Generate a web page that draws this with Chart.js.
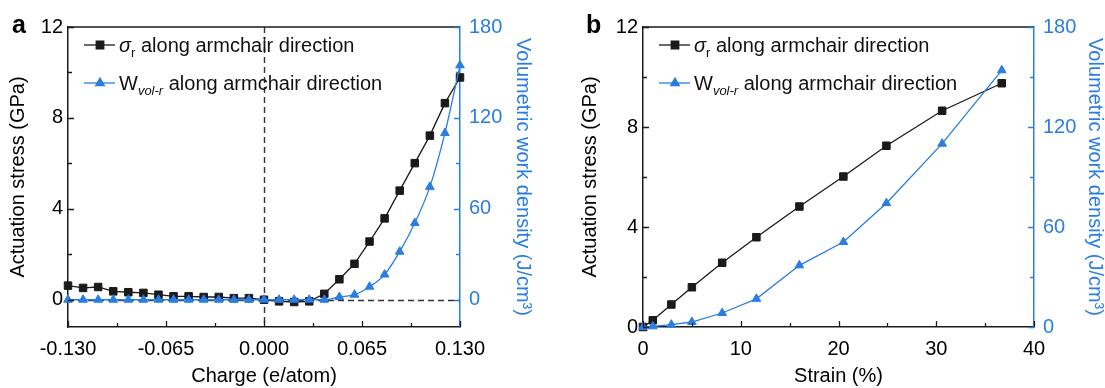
<!DOCTYPE html>
<html lang="en">
<head>
<meta charset="UTF-8">
<title>Actuation stress and volumetric work density</title>
<script src="https://cdn.jsdelivr.net/npm/chart.js"></script>
<style>
body {
    margin: 0;
    background: #fff;
    width: 1105px;
    height: 388px;
    overflow: hidden;
    position: relative;
}
.panel {
    position: absolute;
    top: 0;
    width: 560px;
    height: 388px;
}
#panelA { left: 0; }
#panelB { left: 556px; }
</style>
</head>
<body>

<div class="panel" id="panelA"><canvas id="chartA" width="560" height="388"></canvas></div>
<div class="panel" id="panelB"><canvas id="chartB" width="560" height="388"></canvas></div>

<script>
// panel a: charge sweep
const charge = [-0.13, -0.12, -0.11, -0.10, -0.09, -0.08, -0.07, -0.06, -0.05, -0.04, -0.03, -0.02, -0.01,
    0.00, 0.01, 0.02, 0.03, 0.04, 0.05, 0.06, 0.07, 0.08, 0.09, 0.10, 0.11, 0.12, 0.13];
const stressCharge = [0.62, 0.52, 0.56, 0.37, 0.33, 0.30, 0.22, 0.15, 0.15, 0.12, 0.12, 0.07, 0.07,
    0.00, -0.07, -0.10, -0.07, 0.26, 0.90, 1.58, 2.56, 3.58, 4.80, 6.01, 7.22, 8.65, 9.78];
const workCharge = [0, 0, 0, 0, 0, 0, 0, 0, 0, 0, 0, 0, 0,
    0, 0, 0, 0, 0, 1.8, 3.3, 8.6, 16.6, 31.7, 50.6, 74.5, 110, 154.7];

// panel b: strain sweep
const strain = [0, 1.0, 2.9, 5.0, 8.1, 11.6, 16.0, 20.5, 24.9, 30.6, 36.7];
const stressStrain = [0, 0.27, 0.90, 1.59, 2.57, 3.59, 4.82, 6.02, 7.25, 8.65, 9.75];
const workStrain = [0, 0.4, 1.4, 3.0, 8.4, 16.9, 37, 51, 74.3, 110, 154];

// tick labels
const chargeTicks = [-0.13, -0.065, 0, 0.065, 0.13];
const strainTicks = [0, 10, 20, 30, 40];
const stressTicks = [0, 4, 8, 12];
const workTicks = [0, 60, 120, 180];

const BLUE = '#2a7de1';
const BLACK = '#1a1a1a';
const FONT = '"Liberation Sans", Arial, sans-serif';

// minor ticks sit halfway between the labelled ones
function withMinor(ticks) {
    const out = [];
    for (let i = 0; i < ticks.length - 1; i++) out.push((ticks[i] + ticks[i + 1]) / 2);
    return out;
}

function drawTickMarks(ctx, scale, values, len, color) {
    ctx.strokeStyle = color;
    ctx.lineWidth = 1.3;
    ctx.beginPath();
    values.forEach(v => {
        if (scale.position === 'bottom') {
            const x = Math.round(scale.getPixelForValue(v)) + 0.5;
            ctx.moveTo(x, scale.top);
            ctx.lineTo(x, scale.top - len);
        } else if (scale.position === 'left') {
            const y = Math.round(scale.getPixelForValue(v)) + 0.5;
            ctx.moveTo(scale.right, y);
            ctx.lineTo(scale.right + len, y);
        } else {
            const y = Math.round(scale.getPixelForValue(v)) + 0.5;
            ctx.moveTo(scale.left, y);
            ctx.lineTo(scale.left - len, y);
        }
    });
    ctx.stroke();
}

function drawLegend(ctx, left) {
    const rows = [
        { y: 45, color: BLACK, marker: 'rect', radius: 5.3,
          parts: [{ t: '\u03c3', style: 'italic ', size: 20 }, { t: 'r', style: '', size: 13, sub: true },
                  { t: ' along armchair direction', style: '', size: 20 }] },
        { y: 83, color: BLUE, marker: 'triangle', radius: 5,
          parts: [{ t: 'W', style: '', size: 20 }, { t: 'vol-r', style: 'italic ', size: 13, sub: true },
                  { t: ' along armchair direction', style: '', size: 20 }] }
    ];
    rows.forEach(row => {
        ctx.strokeStyle = row.color;
        ctx.fillStyle = row.color;
        ctx.lineWidth = 1.3;
        ctx.beginPath();
        ctx.moveTo(left + 16, row.y);
        ctx.lineTo(left + 47, row.y);
        ctx.stroke();
        Chart.helpers.drawPoint(ctx, { pointStyle: row.marker, radius: row.radius, rotation: 0, borderWidth: 1 }, left + 32, row.y);
        let x = left + 51;
        const base = row.y + 7;
        ctx.fillStyle = '#111';
        ctx.textBaseline = 'alphabetic';
        ctx.textAlign = 'left';
        row.parts.forEach(p => {
            ctx.font = p.style + p.size + 'px ' + FONT;
            ctx.fillText(p.t, x, p.sub ? base + 5 : base);
            x += ctx.measureText(p.t).width;
        });
    });
}

const framePlugin = {
    id: 'frame',
    beforeDatasetsDraw(chart, args, opts) {
        if (!opts.zeroLines) return;
        const { ctx, chartArea: a, scales } = chart;
        const x0 = Math.round(scales.x.getPixelForValue(0)) + 0.5;
        const y0 = Math.round(scales.y.getPixelForValue(0)) + 0.5;
        ctx.save();
        ctx.strokeStyle = '#333';
        ctx.lineWidth = 1.4;
        ctx.setLineDash([6, 4]);
        ctx.beginPath();
        ctx.moveTo(x0, a.top);
        ctx.lineTo(x0, a.bottom);
        ctx.moveTo(a.left, y0);
        ctx.lineTo(a.right, y0);
        ctx.stroke();
        ctx.restore();
    },
    afterDraw(chart, args, opts) {
        const { ctx, chartArea: a, scales } = chart;
        ctx.save();
        // top frame line
        ctx.strokeStyle = BLACK;
        ctx.lineWidth = 1.5;
        ctx.beginPath();
        ctx.moveTo(a.left, a.top);
        ctx.lineTo(a.right, a.top);
        ctx.stroke();
        // inward ticks
        drawTickMarks(ctx, scales.x, opts.xTicks, 6, BLACK);
        drawTickMarks(ctx, scales.x, withMinor(opts.xTicks), 4, BLACK);
        drawTickMarks(ctx, scales.y, stressTicks, 6, BLACK);
        drawTickMarks(ctx, scales.y, withMinor(stressTicks), 4, BLACK);
        drawTickMarks(ctx, scales.y2, workTicks, 6, BLUE);
        drawTickMarks(ctx, scales.y2, withMinor(workTicks), 4, BLUE);
        drawLegend(ctx, a.left);
        // panel letter
        ctx.fillStyle = '#000';
        ctx.font = 'bold 25px ' + FONT;
        ctx.textBaseline = 'alphabetic';
        ctx.textAlign = 'left';
        ctx.fillText(opts.letter, opts.letterX, 33);
        ctx.restore();
    }
};

function makeChart(id, cfg) {
    const ctx = document.getElementById(id).getContext('2d');
    return new Chart(ctx, {
        type: 'line',
        data: {
            datasets: [{
                label: 'Wvol-r along armchair direction',
                data: cfg.xs.map((x, i) => ({ x: x, y: cfg.work[i] })),
                yAxisID: 'y2',
                borderColor: BLUE,
                backgroundColor: BLUE,
                borderWidth: 1.3,
                pointStyle: 'triangle',
                pointRadius: 5,
                pointBorderWidth: 1,
                cubicInterpolationMode: cfg.smooth ? 'monotone' : 'default',
                clip: false,
                order: 0
            }, {
                label: 'σr along armchair direction',
                data: cfg.xs.map((x, i) => ({ x: x, y: cfg.stress[i] })),
                yAxisID: 'y',
                borderColor: BLACK,
                backgroundColor: BLACK,
                borderWidth: 1.3,
                pointStyle: 'rect',
                pointRadius: 5.3,
                pointBorderWidth: 1,
                clip: false,
                order: 1
            }]
        },
        options: {
            responsive: false,
            animation: false,
            layout: { padding: { top: 27, left: 0, right: 0, bottom: 0 } },
            plugins: {
                legend: { display: false },
                tooltip: { enabled: false },
                frame: { zeroLines: cfg.zeroLines, xTicks: cfg.xTicks, letter: cfg.letter, letterX: cfg.letterX }
            },
            scales: {
                x: {
                    type: 'linear',
                    position: 'bottom',
                    min: cfg.xTicks[0],
                    max: cfg.xTicks[cfg.xTicks.length - 1],
                    afterBuildTicks: s => { s.ticks = cfg.xTicks.map(v => ({ value: v })); },
                    afterFit: s => { s.height = 61; },
                    grid: { display: false, drawTicks: false },
                    border: { color: BLACK, width: 1.5 },
                    ticks: {
                        color: '#000',
                        font: { family: FONT, size: 20 },
                        padding: 10,
                        maxRotation: 0,
                        autoSkip: false,
                        callback: cfg.xFormat
                    },
                    title: {
                        display: true,
                        text: cfg.xTitle,
                        color: '#000',
                        font: { family: FONT, size: 20, lineHeight: 1.2 },
                        padding: 0
                    }
                },
                y: {
                    position: 'left',
                    min: cfg.yMin,
                    max: 12,
                    afterBuildTicks: s => { s.ticks = stressTicks.map(v => ({ value: v })); },
                    afterFit: s => { s.width = cfg.leftWidth; },
                    grid: { display: false, drawTicks: false },
                    border: { color: BLACK, width: 1.5 },
                    ticks: { color: '#000', font: { family: FONT, size: 20 }, padding: 5 },
                    title: {
                        display: true,
                        text: 'Actuation stress (GPa)',
                        color: '#000',
                        font: { family: FONT, size: 20, lineHeight: 1.2 },
                        padding: cfg.leftTitlePad
                    }
                },
                y2: {
                    position: 'right',
                    min: cfg.yMin * 15,
                    max: 180,
                    afterBuildTicks: s => { s.ticks = workTicks.map(v => ({ value: v })); },
                    afterFit: s => { s.width = cfg.rightWidth; },
                    grid: { display: false, drawTicks: false },
                    border: { color: BLUE, width: 1.5 },
                    ticks: { color: BLUE, font: { family: FONT, size: 20 }, padding: 9 },
                    title: {
                        display: true,
                        text: 'Volumetric work density (J/cm\u00b3)',
                        color: BLUE,
                        font: { family: FONT, size: 20, lineHeight: 1.2 },
                        padding: cfg.rightTitlePad
                    }
                }
            }
        },
        plugins: [framePlugin]
    });
}

makeChart('chartA', {
    xs: charge, stress: stressCharge, work: workCharge,
    xTicks: chargeTicks, xFormat: v => v.toFixed(3), xTitle: 'Charge (e/atom)',
    yMin: -1.2, smooth: true, zeroLines: true,
    leftWidth: 68, rightWidth: 100, leftTitlePad: 6, rightTitlePad: 25,
    letter: 'a', letterX: 12
});

makeChart('chartB', {
    xs: strain, stress: stressStrain, work: workStrain,
    xTicks: strainTicks, xFormat: v => String(v), xTitle: 'Strain (%)',
    yMin: 0, smooth: false, zeroLines: false,
    leftWidth: 87, rightWidth: 82, leftTitlePad: 22, rightTitlePad: 9,
    letter: 'b', letterX: 30
});
</script>

</body>
</html>
